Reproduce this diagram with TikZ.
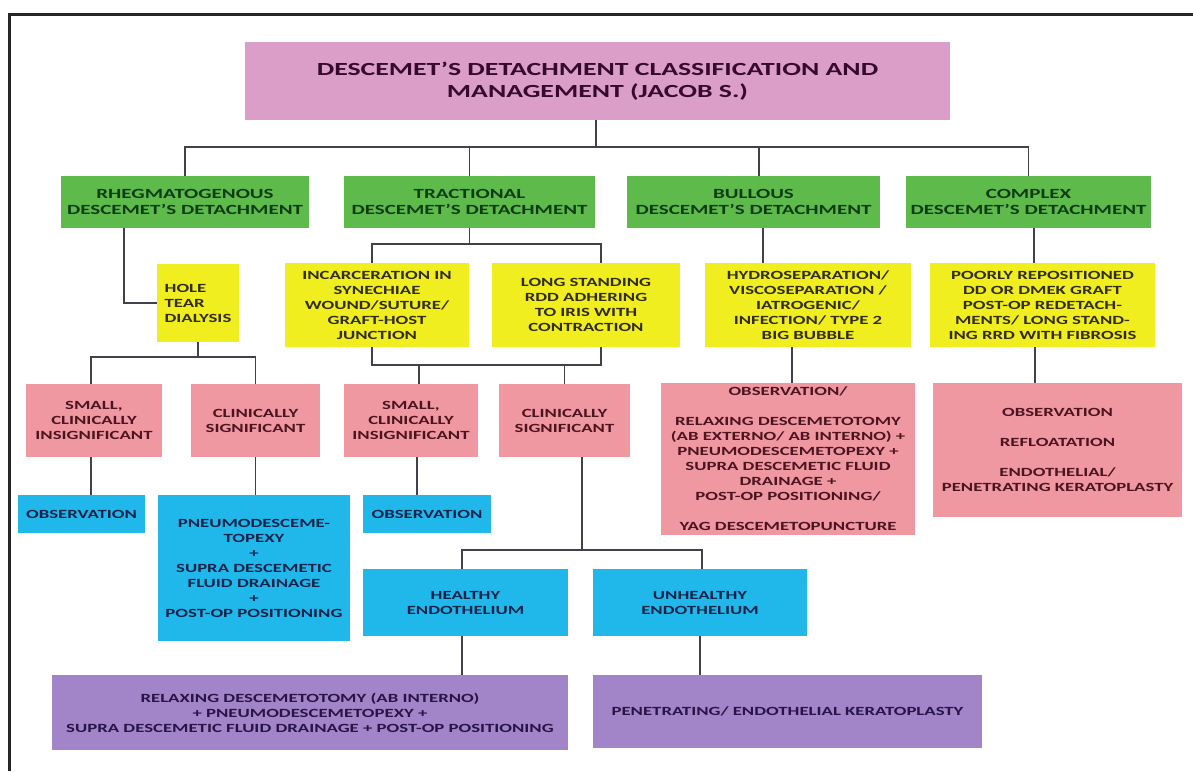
\documentclass[tikz,border=0pt]{standalone}
\usepackage{fontspec}
\setmainfont{Carlito}[FakeStretch=1.5]
\usepackage{tikz}
\definecolor{headpink}{RGB}{219,158,200}
\definecolor{headtext}{RGB}{55,10,45}
\definecolor{typegreen}{RGB}{94,186,74}
\definecolor{typetext}{RGB}{15,60,20}
\definecolor{causeyellow}{RGB}{240,238,30}
\definecolor{causetext}{RGB}{50,45,20}
\definecolor{sizepink}{RGB}{240,152,162}
\definecolor{sizetext}{RGB}{75,20,30}
\definecolor{treatblue}{RGB}{32,184,234}
\definecolor{treattext}{RGB}{15,35,75}
\definecolor{surgpurple}{RGB}{162,132,200}
\definecolor{surgtext}{RGB}{40,20,70}
\definecolor{linegray}{RGB}{65,65,75}

\begin{document}
\begin{tikzpicture}[x=1pt,y=-1pt,
box/.style={inner sep=0pt,align=center,font=\bfseries\fontsize{12.5}{15}\selectfont},
headbox/.style={box,fill=headpink,text=headtext,font=\bfseries\fontsize{18.5}{22}\selectfont},
typebox/.style={box,fill=typegreen,text=typetext,minimum height=52pt,font=\bfseries\fontsize{14}{16}\selectfont},
causebox/.style={box,fill=causeyellow,text=causetext,minimum height=84pt},
sizebox/.style={box,fill=sizepink,text=sizetext},
treatbox/.style={box,fill=treatblue,text=treattext},
surgbox/.style={box,fill=surgpurple,text=surgtext},
link/.style={draw=linegray,line width=1.6pt}]
\useasboundingbox (0,0) rectangle (1193,771);
\draw[line width=3pt,black!85] (1193,14) -- (9,14) -- (9,771);

\node[headbox,minimum width=705pt,minimum height=78pt] (title) at (597.5,81) {DESCEMET’S DETACHMENT CLASSIFICATION AND\\MANAGEMENT (JACOB S.)};

\node[typebox,minimum width=248pt] (rheg) at (185,202) {RHEGMATOGENOUS\\DESCEMET’S DETACHMENT};
\node[typebox,minimum width=251pt] (tract) at (469.5,202) {TRACTIONAL\\DESCEMET’S DETACHMENT};
\node[typebox,minimum width=253pt] (bullous) at (753.5,202) {BULLOUS\\DESCEMET’S DETACHMENT};
\node[typebox,minimum width=245pt] (complex) at (1028.5,202) {COMPLEX\\DESCEMET’S DETACHMENT};

\node[causebox,align=left,minimum width=82pt,minimum height=78pt] (hole) at (198,303) {HOLE\\TEAR\\DIALYSIS};
\node[causebox,minimum width=184pt] (incarc) at (377,305) {INCARCERATION IN\\SYNECHIAE\\WOUND/SUTURE/\\GRAFT-HOST\\JUNCTION};
\node[causebox,minimum width=188pt] (longrdd) at (586,305) {LONG STANDING\\RDD ADHERING\\TO IRIS WITH\\CONTRACTION};
\node[causebox,minimum width=206pt] (bullcause) at (808,305) {HYDROSEPARATION/\\VISCOSEPARATION /\\IATROGENIC/\\INFECTION/ TYPE 2\\BIG BUBBLE};
\node[causebox,minimum width=225pt] (compcause) at (1042.5,305) {POORLY REPOSITIONED\\DD OR DMEK GRAFT\\POST-OP REDETACH-\\MENTS/ LONG STAND-\\ING RRD WITH FIBROSIS};

\node[sizebox,minimum width=136pt,minimum height=73pt] (smallR) at (94,420.5) {SMALL,\\CLINICALLY\\INSIGNIFICANT};
\node[sizebox,minimum width=129pt,minimum height=73pt] (signR) at (255.5,420.5) {CLINICALLY\\SIGNIFICANT};
\node[sizebox,minimum width=134pt,minimum height=73pt] (smallT) at (411,420.5) {SMALL,\\CLINICALLY\\INSIGNIFICANT};
\node[sizebox,minimum width=131pt,minimum height=73pt] (signT) at (564.5,420.5) {CLINICALLY\\SIGNIFICANT};
\node[sizebox,minimum width=254pt,minimum height=152pt] (bullmgmt) at (788,459) {OBSERVATION/\\[15pt]RELAXING DESCEMETOTOMY\\(AB EXTERNO/ AB INTERNO) +\\PNEUMODESCEMETOPEXY +\\SUPRA DESCEMETIC FLUID\\DRAINAGE +\\POST-OP POSITIONING/\\[15pt]YAG DESCEMETOPUNCTURE};
\node[sizebox,minimum width=249pt,minimum height=134pt] (compmgmt) at (1057.5,450) {OBSERVATION\\[15pt]REFLOATATION\\[15pt]ENDOTHELIAL/\\PENETRATING KERATOPLASTY};

\node[treatbox,minimum width=127pt,minimum height=38pt] (obsR) at (81.5,514) {OBSERVATION};
\node[treatbox,minimum width=192pt,minimum height=146pt] (pneumoR) at (254,568) {PNEUMODESCEME-\\TOPEXY\\+\\SUPRA DESCEMETIC\\FLUID DRAINAGE\\+\\POST-OP POSITIONING};
\node[treatbox,minimum width=128pt,minimum height=38pt] (obsT) at (427,514) {OBSERVATION};
\node[treatbox,minimum width=205pt,minimum height=67pt] (healthy) at (465.5,602.5) {HEALTHY\\ENDOTHELIUM};
\node[treatbox,minimum width=214pt,minimum height=67pt] (unhealthy) at (700,602.5) {UNHEALTHY\\ENDOTHELIUM};

\node[surgbox,minimum width=516pt,minimum height=75pt] (relax) at (310,712.5) {RELAXING DESCEMETOTOMY (AB INTERNO)\\+ PNEUMODESCEMETOPEXY +\\SUPRA DESCEMETIC FLUID DRAINAGE + POST-OP POSITIONING};
\node[surgbox,minimum width=389pt,minimum height=73pt] (kerato) at (787.5,711.5) {PENETRATING/ ENDOTHELIAL KERATOPLASTY};

\coordinate (bus1) at (596,147);
\draw[link] (title.south -| bus1) -- (bus1);
\draw[link] (rheg.north) |- (bus1) -| (complex.north);
\draw[link] (tract.north) -- (tract.north |- bus1);
\draw[link] ([xshift=5.5pt]bullous.north) -- ([xshift=5.5pt]bullous.north |- bus1);

\draw[link] ([xshift=-61pt]rheg.south) |- (hole.west);
\coordinate (hbus) at (197,357);
\draw[link] (hole.south) -- (hole.south |- hbus);
\draw[link] ([xshift=-3pt]smallR.north) |- (hbus) -| (signR.north);

\coordinate (tbus) at (471,244);
\coordinate (bbus) at (480,365);
\draw[link] (tract.south) -- (tract.south |- tbus);
\draw[link] ([xshift=-5pt]incarc.north) |- (tbus) -| ([xshift=15pt]longrdd.north);
\draw[link] ([xshift=-5pt]incarc.south) |- ([xshift=15pt]longrdd.south |- bbus) -- ([xshift=15pt]longrdd.south);
\draw[link] ([xshift=8pt]smallT.north) -- ([xshift=8pt]smallT.north |- bbus);
\draw[link] (signT.north) -- (signT.north |- bbus);

\draw[link] ([xshift=9.5pt]bullous.south) -- ([xshift=9.5pt]bullous.south |- bullcause.north);
\draw[link] ([xshift=-16pt]bullcause.south) -- ([xshift=-16pt]bullcause.south |- bullmgmt.north);
\draw[link] ([xshift=5.5pt]complex.south) -- ([xshift=5.5pt]complex.south |- compcause.north);
\draw[link] ([xshift=-7.5pt]compcause.south) -- ([xshift=-7.5pt]compcause.south |- compmgmt.north);

\draw[link] ([xshift=-3pt]smallR.south) -- ([xshift=-3pt]smallR.south |- obsR.north);
\draw[link] (signR.south) -- (signR.south |- pneumoR.north);
\draw[link] ([xshift=6pt]smallT.south) -- ([xshift=6pt]smallT.south |- obsT.north);

\coordinate (ebus) at (582,550);
\draw[link] ([xshift=17.5pt]signT.south) -- ([xshift=17.5pt]signT.south |- ebus);
\draw[link] ([xshift=-3.5pt]healthy.north) |- (ebus) -| ([xshift=2pt]unhealthy.north);
\draw[link] ([xshift=-3.5pt]healthy.south) -- ([xshift=-3.5pt]healthy.south |- relax.north);
\draw[link] (unhealthy.south) -- (unhealthy.south |- kerato.north);
\end{tikzpicture}
\end{document}
